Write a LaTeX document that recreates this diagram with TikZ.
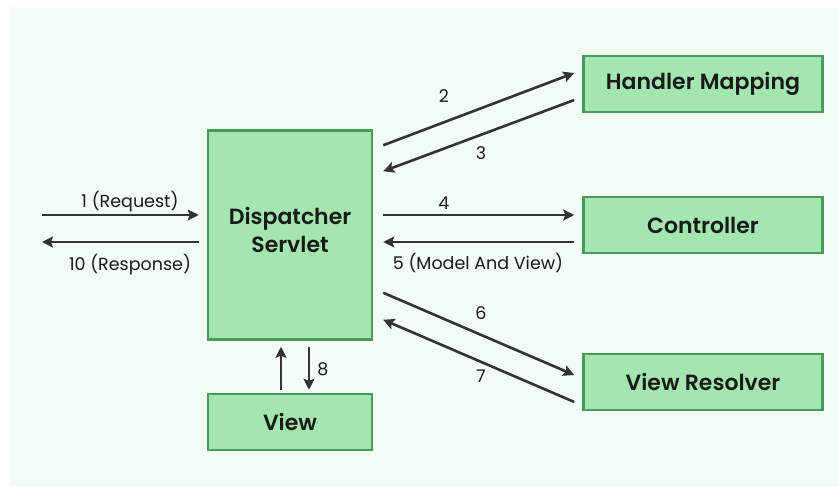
\documentclass[tikz,border=0pt]{standalone}
\usepackage{fontspec}
\setmainfont{Poppins}[BoldFont={Poppins SemiBold}]
\usetikzlibrary{arrows.meta,calc}
\definecolor{bgmint}{HTML}{F2FCF4}
\definecolor{boxfill}{HTML}{A3E6B0}
\definecolor{boxline}{HTML}{4A9A5C}
\definecolor{arrowc}{HTML}{333333}
\definecolor{txt}{HTML}{1A1A1A}
\tikzset{
  compbox/.style={draw=boxline,line width=2.5pt,fill=boxfill,inner sep=0pt,
    font=\fontsize{22}{28}\selectfont\bfseries,text=txt,align=center},
  flow/.style={draw=arrowc,line width=2.6pt,-{Stealth[length=11pt,width=11pt,inset=2pt]}},
  lbl/.style={font=\fontsize{17.5}{20}\selectfont,text=txt,inner sep=0pt}
}
\begin{document}
\begin{tikzpicture}[x=1pt,y=-1pt]
\useasboundingbox (0,0) rectangle (839,488);
\fill[white] (0,0) rectangle (839,488);
\fill[bgmint] (10,7) rectangle (839,486);

\node[compbox,minimum width=164pt,minimum height=209pt] (ds) at (290,235) {Dispatcher\\Servlet\\[-18pt]};
\node[compbox,minimum width=239pt,minimum height=56pt] (hm) at (703,84) {Handler Mapping};
\node[compbox,minimum width=239pt,minimum height=56pt] (ct) at (703,225) {Controller};
\node[compbox,minimum width=239pt,minimum height=56pt] (vr) at (703,382) {View Resolver};
\node[compbox,minimum width=164pt,minimum height=56pt] (vw) at (290,422) {View};

\coordinate (reqin) at (42,215);
\coordinate (resout) at (42,242);

% 1 and 10
\draw[flow] (reqin) -- ([shift={(-8,-20)}]ds.west);
\draw[flow] ([shift={(-8,7)}]ds.west) -- (resout);
% 2 and 3
\draw[flow] ([shift={(10,16)}]ds.north east) -- ([shift={(-8,-11)}]hm.west);
\draw[flow] ([shift={(-8,16)}]hm.west) -- ([shift={(10,42)}]ds.north east);
% 4 and 5
\draw[flow] ([shift={(10,-20)}]ds.east) -- ([shift={(-8,-10)}]ct.west);
\draw[flow] ([shift={(-8,17)}]ct.west) -- ([shift={(10,7)}]ds.east);
% 6 and 7
\draw[flow] ([shift={(10,-48)}]ds.south east) -- ([shift={(-8,-7)}]vr.west);
\draw[flow] ([shift={(-8,20)}]vr.west) -- ([shift={(10,-21)}]ds.south east);
% view arrows
\draw[flow] ([shift={(-9,-3)}]vw.north) -- ([shift={(-9,6)}]ds.south);
\draw[flow] ([shift={(19,6)}]ds.south) -- ([shift={(19,-3)}]vw.north);

\node[lbl] (l1) at (130,202) {1 (Request)};
\node[lbl] (l10) at (130,265) {10 (Response)};
\node[lbl] (l2) at (444,96) {2};
\node[lbl] (l3) at (481,153) {3};
\node[lbl] (l4) at (444,203) {4};
\node[lbl] (l5) at (478,263) {5 (Model And View)};
\node[lbl] (l6) at (481,313) {6};
\node[lbl] (l7) at (481,376) {7};
\node[lbl] (l8) at (323,369) {8};
\end{tikzpicture}
\end{document}
